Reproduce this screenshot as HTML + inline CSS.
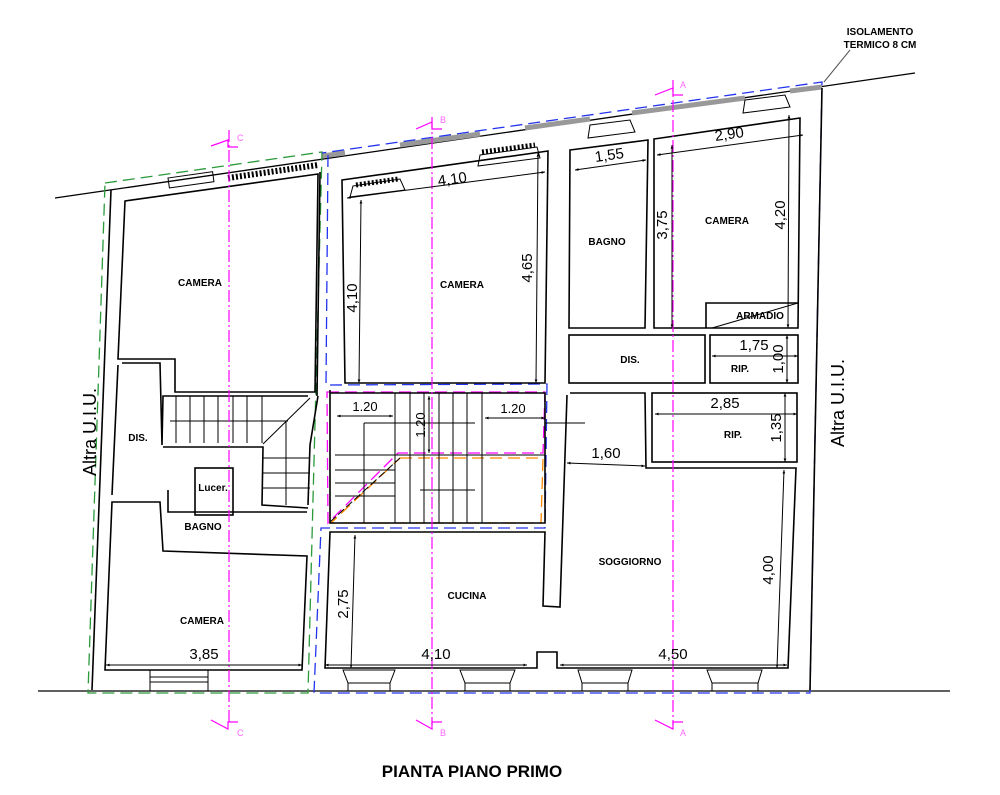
<!DOCTYPE html>
<html><head><meta charset="utf-8"><style>
html,body{margin:0;padding:0;background:#fff;}
svg{display:block}
text{font-family:"Liberation Sans",sans-serif;fill:#000}
.r{font-size:10px;font-weight:bold;text-anchor:middle}
.d{font-size:15px;text-anchor:middle}
.w{fill:none;stroke:#000;stroke-width:1.6}
.t{fill:none;stroke:#000;stroke-width:1}
.dim{stroke:#000;stroke-width:1;marker-start:url(#a);marker-end:url(#a)}
.sec{stroke:#f0f;stroke-width:1.2;stroke-dasharray:12 3 2 3;fill:none}
</style></head><body>
<svg width="1000" height="795" viewBox="0 0 1000 795" xmlns="http://www.w3.org/2000/svg">
<defs><marker id="a" viewBox="0 0 10 10" refX="5" refY="5" markerWidth="7" markerHeight="7" orient="auto-start-reverse"><path d="M0,3 L5,5 L0,7 z" fill="#000"/></marker></defs>

<!-- facade & ground -->
<line x1="55" y1="198" x2="915" y2="73" stroke="#000" stroke-width="1.3"/>
<line x1="38" y1="691" x2="950" y2="691" stroke="#000" stroke-width="1.3"/>
<g stroke="#999" stroke-width="5">
<line x1="322" y1="156" x2="345" y2="153"/>
<line x1="400" y1="145" x2="480" y2="134"/>
<line x1="525" y1="128" x2="590" y2="119"/>
<line x1="632" y1="113" x2="745" y2="98"/>
<line x1="790" y1="91" x2="822" y2="87"/>
</g>

<!-- dashed boundaries -->
<polygon points="105,183 322,152 308,693 88,693" fill="none" stroke="#2a9a3a" stroke-width="1.3" stroke-dasharray="12 6"/>
<polyline points="328,155 326,385 547,384 545,528 321,528 314,693 810,693 822,82 322,153" fill="none" stroke="#2233ee" stroke-width="1.3" stroke-dasharray="12 6"/>
<polygon points="327,392 545,392 543,453 398,453 328,523" fill="none" stroke="#f0f" stroke-width="1.3" stroke-dasharray="12 6"/>
<polygon points="400,458 543,458 541,523 331,523" fill="none" stroke="#f80" stroke-width="1.3" stroke-dasharray="12 6"/>

<!-- left unit walls -->
<polyline class="w" points="111,190 92,690"/>
<polygon class="w" points="125,201 318,174 315,392 175,392 175,359 118,359"/>
<polyline class="w" points="122,363 160,363 162,445 163,396 308,396"/>
<polyline class="w" points="318,396 310,445 308,505"/>
<polygon class="w" points="112,502 160,502 163,551 307,556 302,670 105,670"/>
<polyline class="w" points="118,365 112,495"/>
<polyline class="w" points="163,447 263,447 262,505 308,508"/>
<polyline class="w" points="168,490 168,512 307,512"/>
<rect class="w" x="195" y="468" width="38" height="47"/>
<line class="w" x1="320" y1="172" x2="317" y2="396"/>
<!-- left stairs -->
<g class="t">
<line x1="176" y1="396" x2="176" y2="443"/><line x1="190" y1="396" x2="190" y2="443"/><line x1="204" y1="396" x2="204" y2="443"/><line x1="218" y1="396" x2="218" y2="443"/><line x1="233" y1="396" x2="233" y2="443"/><line x1="247" y1="396" x2="247" y2="443"/><line x1="262" y1="396" x2="262" y2="443"/>
<line x1="170" y1="421" x2="288" y2="421"/><line x1="263" y1="444" x2="310" y2="398"/>
<line x1="263" y1="458" x2="310" y2="458"/><line x1="263" y1="473" x2="310" y2="473"/><line x1="263" y1="488" x2="310" y2="488"/><line x1="286" y1="421" x2="286" y2="505"/>
</g>
<!-- left windows -->
<rect class="t" x="168" y="178" width="45" height="10" transform="rotate(-8 168 178)"/>
<line x1="228" y1="178" x2="318" y2="165" stroke="#000" stroke-width="6" stroke-dasharray="2 2"/>
<rect class="t" x="150" y="670" width="58" height="21"/>
<line class="t" x1="150" y1="677" x2="208" y2="677"/><line class="t" x1="150" y1="682" x2="208" y2="682"/>

<!-- right unit -->
<polygon class="w" points="342,180 548,151 545,383 345,383"/>
<polygon class="w" points="570,150 648,140 645,328 569,328"/>
<polygon class="w" points="654,139 800,118 798,328 654,328"/>
<polyline class="w" points="706,328 706,303 798,303"/>
<line class="t" x1="712" y1="328" x2="798" y2="303"/>
<rect class="w" x="569" y="335" width="136" height="48"/>
<rect class="w" x="710" y="335" width="88" height="48"/>
<rect class="w" x="652" y="393" width="145" height="69"/>
<polyline class="w" points="570,393 645,393 646,468 796,468 788,668 557,668 557,652 537,652 537,668 325,668 330,532 545,532 543,606 560,607 567,395"/>
<polyline class="w" points="330,390 330,523 545,523 545,393 330,393"/>
<!-- central stairs -->
<g class="t">
<line x1="395" y1="393" x2="395" y2="523"/><line x1="410" y1="393" x2="410" y2="523"/><line x1="424" y1="393" x2="424" y2="523"/><line x1="439" y1="393" x2="439" y2="523"/><line x1="453" y1="393" x2="453" y2="523"/><line x1="467" y1="393" x2="467" y2="523"/><line x1="482" y1="393" x2="482" y2="523"/>
<line x1="335" y1="455" x2="545" y2="455"/><line x1="335" y1="470" x2="395" y2="470"/><line x1="335" y1="483" x2="395" y2="483"/><line x1="335" y1="496" x2="395" y2="496"/>
<line x1="364" y1="423" x2="364" y2="523"/><line x1="364" y1="423" x2="475" y2="423"/><line x1="420" y1="490" x2="475" y2="490"/><line x1="545" y1="423" x2="585" y2="423"/>
<line x1="330" y1="522" x2="400" y2="458" stroke-dasharray="8 3"/>
</g>
<!-- right windows -->
<g class="t">
<polygon points="353,186 400,179 405,190 350,197"/><polygon points="480,155 537,147 540,158 478,166"/>
<polygon points="590,125 630,120 635,132 588,138"/><polygon points="745,100 785,95 790,107 743,113"/>
<polygon points="343,670 395,670 390,683 348,683"/><polygon points="460,670 515,670 510,683 465,683"/>
<polygon points="578,670 632,670 628,683 582,683"/><polygon points="707,670 762,670 758,683 712,683"/>
<line x1="348" y1="683" x2="348" y2="691"/><line x1="390" y1="683" x2="390" y2="691"/><line x1="465" y1="683" x2="465" y2="691"/><line x1="510" y1="683" x2="510" y2="691"/><line x1="582" y1="683" x2="582" y2="691"/><line x1="628" y1="683" x2="628" y2="691"/><line x1="712" y1="683" x2="712" y2="691"/><line x1="758" y1="683" x2="758" y2="691"/>
</g>
<line x1="356" y1="185" x2="398" y2="179" stroke="#000" stroke-width="5" stroke-dasharray="2 2"/>
<line x1="482" y1="152" x2="535" y2="145" stroke="#000" stroke-width="5" stroke-dasharray="2 2"/>
<polyline class="w" points="822,88 810,690"/>

<!-- section lines -->
<line class="sec" x1="229" y1="130" x2="229" y2="725"/>
<line class="sec" x1="432" y1="117" x2="432" y2="725"/>
<line class="sec" x1="673" y1="80" x2="673" y2="725"/>
<g fill="none" stroke="#f0f" stroke-width="1.2">
<polyline points="211,146 228,140 228,147 238,147"/><polyline points="416,129 432,122 432,129 442,129"/><polyline points="655,95 673,88 673,95 683,95"/>
<polyline points="211,720 228,729 228,722 238,722"/><polyline points="416,720 432,729 432,722 442,722"/><polyline points="655,720 673,729 673,722 683,722"/>
</g>
<g font-size="9">
<text x="237" y="141" style="fill:#f6f">C</text><text x="440" y="123" style="fill:#f6f">B</text><text x="680" y="88" style="fill:#f6f">A</text>
<text x="237" y="736" style="fill:#f6f">C</text><text x="440" y="736" style="fill:#f6f">B</text><text x="680" y="736" style="fill:#f6f">A</text>
</g>

<!-- dimensions -->
<line class="dim" x1="347" y1="198" x2="545" y2="172"/>
<line class="dim" x1="361" y1="200" x2="359" y2="383"/>
<line class="dim" x1="538" y1="153" x2="536" y2="383"/>
<line class="dim" x1="575" y1="170" x2="646" y2="160"/>
<line class="dim" x1="672" y1="145" x2="672" y2="328"/>
<line class="dim" x1="657" y1="155" x2="803" y2="135"/>
<line class="dim" x1="789" y1="115" x2="788" y2="328"/>
<line class="dim" x1="712" y1="356" x2="798" y2="356"/>
<line class="dim" x1="787" y1="335" x2="787" y2="383"/>
<line class="dim" x1="655" y1="414" x2="797" y2="414"/>
<line class="dim" x1="785" y1="393" x2="785" y2="462"/>
<line class="dim" x1="567" y1="463" x2="645" y2="466"/>
<line class="dim" x1="784" y1="470" x2="777" y2="668"/>
<line class="dim" x1="560" y1="665" x2="787" y2="665"/>
<line class="dim" x1="325" y1="665" x2="527" y2="665"/>
<line class="dim" x1="355" y1="535" x2="351" y2="668"/>
<line class="dim" x1="106" y1="665" x2="302" y2="665"/>
<line class="dim" x1="337" y1="416" x2="393" y2="416"/>
<line class="dim" x1="485" y1="418" x2="545" y2="418"/>
<line class="dim" x1="429" y1="396" x2="429" y2="453"/>

<g class="d">
<text x="453" y="184" transform="rotate(-8 453 184)">4,10</text>
<text transform="translate(357,298) rotate(-90)">4,10</text>
<text transform="translate(532,268) rotate(-90)">4,65</text>
<text x="610" y="160" transform="rotate(-8 610 160)">1,55</text>
<text transform="translate(667,225) rotate(-90)">3,75</text>
<text x="730" y="139" transform="rotate(-8 730 139)">2,90</text>
<text transform="translate(785,215) rotate(-90)">4,20</text>
<text x="754" y="350">1,75</text>
<text transform="translate(783,359) rotate(-90)">1,00</text>
<text x="725" y="408">2,85</text>
<text transform="translate(781,428) rotate(-90)">1,35</text>
<text x="606" y="458">1,60</text>
<text transform="translate(773,570) rotate(-90)">4,00</text>
<text x="673" y="659">4,50</text>
<text x="436" y="659">4,10</text>
<text transform="translate(348,604) rotate(-90)">2,75</text>
<text x="204" y="659">3,85</text>
<text x="365" y="411" font-size="13">1.20</text>
<text x="513" y="413" font-size="13">1.20</text>
<text transform="translate(425,425) rotate(-90)" font-size="13">1.20</text>
</g>

<g class="r">
<text x="200" y="286">CAMERA</text><text x="462" y="288">CAMERA</text><text x="607" y="245">BAGNO</text>
<text x="727" y="224">CAMERA</text><text x="760" y="319">ARMADIO</text><text x="630" y="363">DIS.</text>
<text x="740" y="372">RIP.</text><text x="733" y="438">RIP.</text><text x="138" y="441">DIS.</text>
<text x="213" y="491">Lucer.</text><text x="203" y="530">BAGNO</text><text x="202" y="624">CAMERA</text>
<text x="467" y="599">CUCINA</text><text x="630" y="565">SOGGIORNO</text>
<text x="880" y="35">ISOLAMENTO</text><text x="880" y="48">TERMICO 8 CM</text>
</g>
<line x1="850" y1="50" x2="824" y2="82" stroke="#555" stroke-width="1"/>
<text transform="translate(96,432) rotate(-90)" font-size="18" text-anchor="middle">Altra U.I.U.</text>
<text transform="translate(844,403) rotate(-90)" font-size="18" text-anchor="middle">Altra U.I.U.</text>
<text x="472" y="777" font-size="17" font-weight="bold" text-anchor="middle">PIANTA PIANO PRIMO</text>
</svg>
</body></html>
